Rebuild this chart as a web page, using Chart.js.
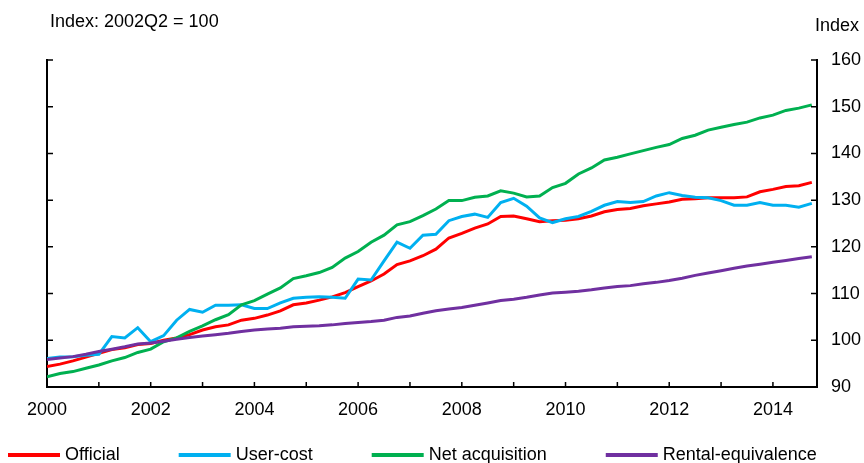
<!DOCTYPE html>
<html>
<head>
<meta charset="utf-8">
<script src="https://cdn.jsdelivr.net/npm/chart.js@4.4.1/dist/chart.umd.min.js"></script>
<style>
  html, body { margin: 0; padding: 0; background: #fff; }
  #wrap { width: 864px; height: 463px; }
</style>
</head>
<body>
<div id="wrap"><canvas id="housingChart" width="864" height="463"></canvas></div>
<script>
const quarters = [
  "2000Q1", "2000Q2", "2000Q3", "2000Q4",
  "2001Q1", "2001Q2", "2001Q3", "2001Q4",
  "2002Q1", "2002Q2", "2002Q3", "2002Q4",
  "2003Q1", "2003Q2", "2003Q3", "2003Q4",
  "2004Q1", "2004Q2", "2004Q3", "2004Q4",
  "2005Q1", "2005Q2", "2005Q3", "2005Q4",
  "2006Q1", "2006Q2", "2006Q3", "2006Q4",
  "2007Q1", "2007Q2", "2007Q3", "2007Q4",
  "2008Q1", "2008Q2", "2008Q3", "2008Q4",
  "2009Q1", "2009Q2", "2009Q3", "2009Q4",
  "2010Q1", "2010Q2", "2010Q3", "2010Q4",
  "2011Q1", "2011Q2", "2011Q3", "2011Q4",
  "2012Q1", "2012Q2", "2012Q3", "2012Q4",
  "2013Q1", "2013Q2", "2013Q3", "2013Q4",
  "2014Q1", "2014Q2", "2014Q3", "2014Q4"
];

const official = [
  94.4, 94.9, 95.6, 96.4,  97.2, 98.0, 98.4, 99.1,  99.3, 100.0, 100.5, 101.2,
  102.2, 102.9, 103.3, 104.3,  104.7, 105.4, 106.3, 107.6,  108.0, 108.6, 109.3, 110.2,
  111.5, 112.7, 114.2, 116.2,  117.0, 118.1, 119.5, 121.9,  122.9, 124.0, 124.9, 126.5,
  126.6, 126.0, 125.4, 125.6,  125.7, 126.0, 126.6, 127.5,  128.0, 128.2, 128.8, 129.2,
  129.6, 130.2, 130.3, 130.5,  130.5, 130.5, 130.7, 131.8,  132.3, 132.9, 133.1, 133.8
];
const userCost = [
  96.1, 96.4, 96.5, 96.8,  97.0, 100.8, 100.5, 102.7,  99.7, 101.0, 104.3, 106.6,
  106.0, 107.5, 107.5, 107.6,  106.8, 106.8, 108.0, 109.0,  109.2, 109.3, 109.2, 109.0,
  113.1, 112.9, 117.0, 121.0,  119.7, 122.5, 122.7, 125.6,  126.5, 127.0, 126.3, 129.5,
  130.4, 128.7, 126.2, 125.2,  126.0, 126.5, 127.6, 128.9,  129.7, 129.5, 129.7, 130.9,
  131.6, 131.0, 130.6, 130.5,  129.9, 128.9, 128.9, 129.5,  128.9, 128.9, 128.5, 129.3
];
const netAcquisition = [
  92.2, 92.9, 93.3, 94.0,  94.7, 95.6, 96.3, 97.4,  98.1, 99.7, 100.5, 101.9,
  103.1, 104.4, 105.5, 107.6,  108.5, 109.9, 111.2, 113.2,  113.8, 114.5, 115.6, 117.6,
  119.0, 121.0, 122.5, 124.7,  125.4, 126.7, 128.1, 129.9,  129.9, 130.6, 130.9, 132.0,
  131.5, 130.7, 130.9, 132.7,  133.6, 135.6, 136.9, 138.6,  139.2, 139.9, 140.6, 141.3,
  141.9, 143.2, 143.9, 145.0,  145.6, 146.2, 146.7, 147.6,  148.2, 149.2, 149.7, 150.4
];
const rentalEquivalence = [
  95.9, 96.2, 96.5, 97.0,  97.6, 98.1, 98.6, 99.2,  99.4, 99.8, 100.2, 100.6,
  100.9, 101.2, 101.5, 101.9,  102.2, 102.4, 102.6, 102.9,  103.0, 103.1, 103.3, 103.6,
  103.8, 104.0, 104.3, 104.9,  105.2, 105.8, 106.3, 106.7,  107.0, 107.5, 108.0, 108.5,
  108.8, 109.2, 109.7, 110.1,  110.3, 110.5, 110.8, 111.2,  111.5, 111.7, 112.1, 112.4,
  112.8, 113.3, 113.9, 114.4,  114.9, 115.4, 115.9, 116.3,  116.7, 117.1, 117.5, 117.9
];

const seriesNames = ["Official", "User-cost", "Net acquisition", "Rental-equivalence"];
const seriesColors = ["#ff0000", "#00b0f0", "#00b050", "#7030a0"];
const yTicks = [90, 100, 110, 120, 130, 140, 150, 160];
const leftNote = "Index: 2002Q2 = 100";
const rightNote = "Index";

const FONT = "'Liberation Sans', Arial, sans-serif";

// "2003Q2" -> 2003.25
function quarterToX(q) {
  return parseInt(q.slice(0, 4)) + (parseInt(q.slice(5)) - 1) / 4;
}

function toPoints(values) {
  return values.map((v, i) => ({ x: quarterToX(quarters[i]), y: v }));
}

// inward tick marks, header texts and the legend
const frame = {
  id: 'frame',
  afterDraw(chart) {
    const { ctx, chartArea: a, scales } = chart;
    ctx.save();
    ctx.strokeStyle = '#000';
    ctx.lineWidth = 1.5;
    ctx.beginPath();
    scales.x.ticks.forEach(t => {
      const px = scales.x.getPixelForValue(t.value);
      ctx.moveTo(px, a.bottom);
      ctx.lineTo(px, a.bottom - 5);
    });
    scales.y.ticks.forEach(t => {
      const py = scales.y.getPixelForValue(t.value);
      ctx.moveTo(a.left, py);
      ctx.lineTo(a.left + 6, py);
      ctx.moveTo(a.right, py);
      ctx.lineTo(a.right - 6, py);
    });
    ctx.stroke();

    ctx.fillStyle = '#000';
    ctx.font = "18px " + FONT;
    ctx.textAlign = 'left';
    ctx.textBaseline = 'alphabetic';
    ctx.fillText(leftNote, 50, 27);
    ctx.fillText(rightNote, 815, 31);

    // legend
    let x = 8;
    const ly = 455;
    chart.data.datasets.forEach(ds => {
      ctx.strokeStyle = ds.borderColor;
      ctx.lineWidth = 4;
      ctx.beginPath();
      ctx.moveTo(x, ly);
      ctx.lineTo(x + 52, ly);
      ctx.stroke();
      ctx.fillStyle = '#000';
      ctx.textBaseline = 'middle';
      ctx.fillText(ds.label, x + 57, ly);
      x += 57 + ctx.measureText(ds.label).width + 59;
    });
    ctx.restore();
  }
};

const allSeries = [official, userCost, netAcquisition, rentalEquivalence];

new Chart(document.getElementById('housingChart'), {
  type: 'line',
  data: {
    datasets: allSeries.map((vals, i) => ({
      label: seriesNames[i],
      data: toPoints(vals),
      borderColor: seriesColors[i],
      backgroundColor: seriesColors[i],
      borderWidth: 3,
      pointRadius: 0,
      tension: 0,
      fill: false,
      yAxisID: 'y',
      order: allSeries.length - i
    }))
  },
  options: {
    responsive: false,
    animation: false,
    devicePixelRatio: 1,
    layout: { padding: { top: 60, left: 0, right: 0, bottom: 0 } },
    plugins: { legend: { display: false }, tooltip: { enabled: false } },
    scales: {
      x: {
        type: 'linear',
        min: 2000,
        max: 2014.85,
        grid: { display: false, drawTicks: false },
        border: { display: true, color: '#000', width: 2 },
        ticks: {
          stepSize: 1,
          includeBounds: false,
          autoSkip: false,
          maxRotation: 0,
          padding: 12,
          color: '#000',
          font: { family: FONT, size: 18 },
          callback: v => (v % 2 === 0 ? String(v) : '')
        },
        afterFit(s) { s.height = 76; }
      },
      y: {
        position: 'right',
        min: 90,
        max: 160,
        grid: { display: false, drawTicks: false },
        border: { display: true, color: '#000', width: 2 },
        ticks: {
          stepSize: 10,
          padding: 14,
          color: '#000',
          font: { family: FONT, size: 18 },
          callback: v => (yTicks.includes(v) ? String(v) : '')
        },
        afterFit(s) { s.width = 47; }
      },
      yLeft: {
        position: 'left',
        min: 90,
        max: 160,
        grid: { display: false, drawTicks: false },
        border: { display: true, color: '#000', width: 2 },
        ticks: { display: false, stepSize: 10 },
        afterFit(s) { s.width = 47; }
      }
    }
  },
  plugins: [frame]
});
</script>
</body>
</html>
